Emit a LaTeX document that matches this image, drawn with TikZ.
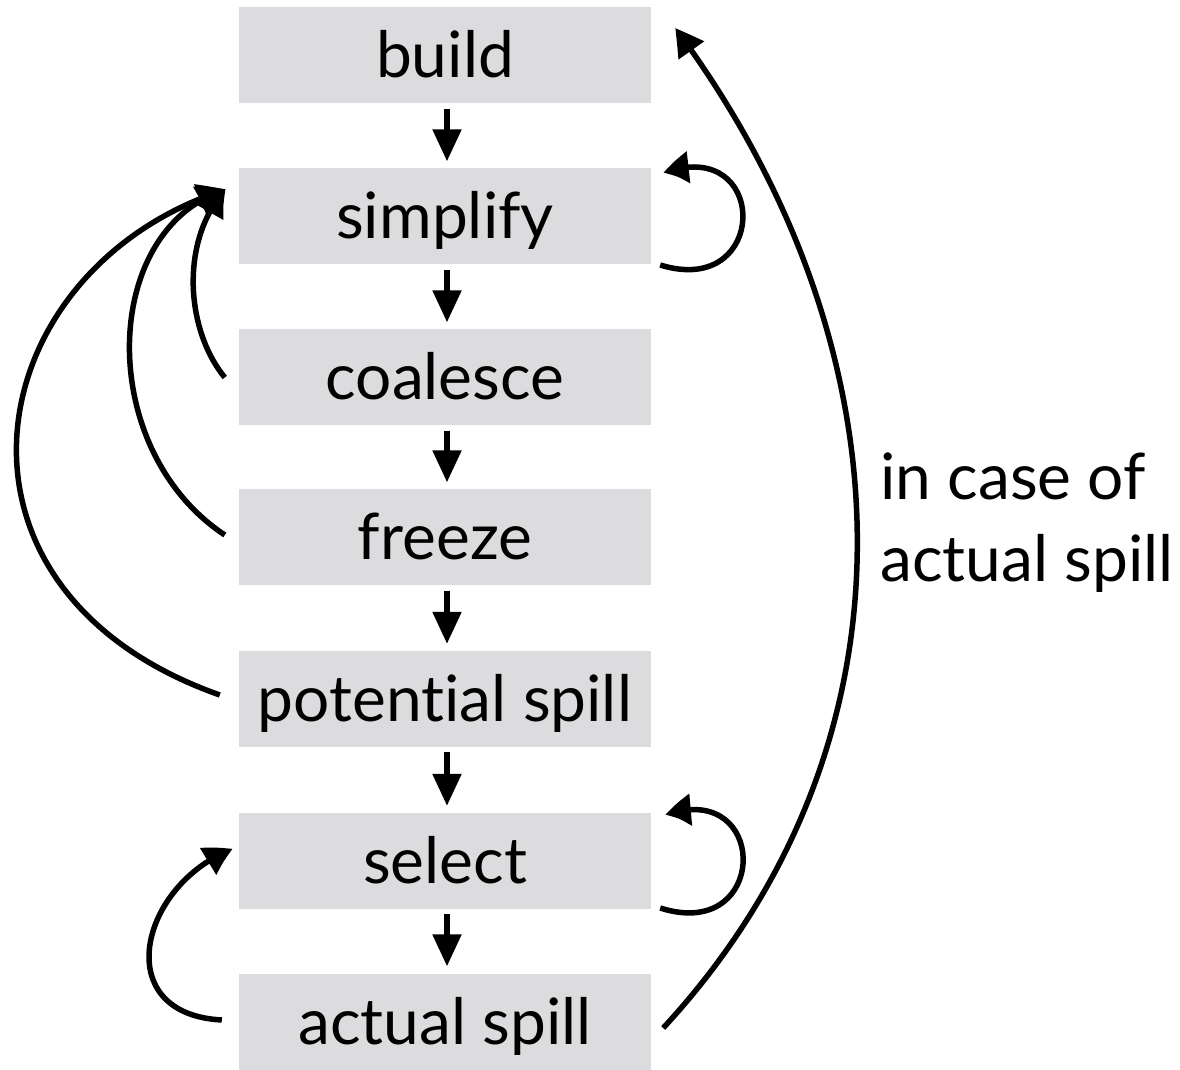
\documentclass[tikz,border=0pt]{standalone}
\usepackage{fontspec}
\setmainfont{Lato}[Ligatures={NoCommon,NoRare}]
\usetikzlibrary{arrows.meta,bending,calc}
\definecolor{boxgray}{HTML}{DCDCDE}
\tikzset{
  stagebox/.style={rectangle, fill=boxgray, minimum width=412pt, minimum height=96pt,
    inner sep=0pt, text height=45pt, text depth=0pt, font=\fontsize{64}{72}\selectfont},
  downarrow/.style={line width=5.5pt, -{Triangle[length=32pt,width=28pt]}, shorten <=5pt, shorten >=7pt},
  curvearrow/.style={line width=5.5pt, -{Triangle[length=28pt,width=30pt,bend]}}
}
\begin{document}
\begin{tikzpicture}[x=1pt,y=1pt]
\useasboundingbox (0,0) rectangle (1180,1069);
\node[stagebox] (build) at (445,1013.5) {build};
\node[stagebox] (simplify) at (445,852.5) {simplify};
\node[stagebox] (coalesce) at (445,691.5) {coalesce};
\node[stagebox] (freeze) at (445,531.5) {freeze};
\node[stagebox] (potential) at (445,370) {potential spill};
\node[stagebox] (select) at (445,208) {select};
\node[stagebox] (actual) at (445,47.5) {actual spill};

\draw[downarrow] ([xshift=2pt]build.south) -- ([xshift=2pt]simplify.north);
\draw[downarrow] ([xshift=2pt]simplify.south) -- ([xshift=2pt]coalesce.north);
\draw[downarrow] ([xshift=2pt]coalesce.south) -- ([xshift=2pt]freeze.north);
\draw[downarrow] ([xshift=2pt]freeze.south) -- ([xshift=2pt]potential.north);
\draw[downarrow] ([xshift=2pt]potential.south) -- ([xshift=2pt]select.north);
\draw[downarrow] ([xshift=2pt]select.south) -- ([xshift=2pt]actual.north);

% self loops
\draw[curvearrow] ($(simplify.east)+(9,-48.5)$) .. controls (770,770) and (770,935) .. ($(simplify.east)+(12,43.5)$);
\draw[curvearrow] ($(select.east)+(9,-47)$) .. controls (770,126) and (770,291) .. ($(select.east)+(14,46)$);

% back to simplify
\draw[curvearrow] ($(coalesce.west)+(-14,0)$) .. controls (185,740) and (180,830) .. ($(simplify.west)+(-13,27)$);
\draw[curvearrow] ($(freeze.west)+(-14,2.5)$) .. controls (95,620) and (100,840) .. ($(simplify.west)+(-13,27)$);
\draw[curvearrow] ($(potential.west)+(-19,4)$) .. controls (-80,480) and (-23,800) .. ($(simplify.west)+(-13,27)$);

% actual spill back to select
\draw[curvearrow] ($(actual.west)+(-17,1.5)$) .. controls (108,55) and (140,185) .. ($(select.west)+(-6,12)$);

% actual spill back to build
\draw[curvearrow] ($(actual.east)+(12,-6.5)$) .. controls (930,330) and (910,725) .. ($(build.east)+(24,27.5)$);

\node[anchor=base west, align=left, inner sep=0pt, font=\fontsize{64}{82}\selectfont] (label) at (880,487) {in case of\\actual spill};
\end{tikzpicture}
\end{document}
